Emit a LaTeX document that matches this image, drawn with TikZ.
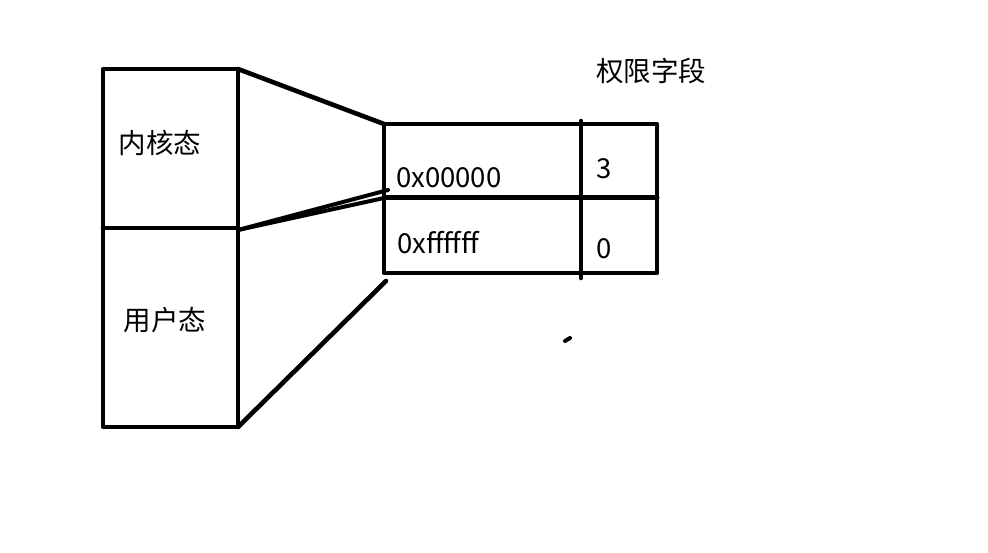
\documentclass[tikz,border=0pt]{standalone}
\usepackage{fontspec}
\setmainfont{Noto Sans CJK SC}
\begin{document}
\begin{tikzpicture}[x=1pt,y=-1pt,
  ln/.style={line width=4.6pt,line cap=round,line join=round},
  txt/.style={inner sep=0pt,font=\fontsize{27.5}{32}\selectfont}]
\useasboundingbox[fill=white] (0,0) rectangle (988,553);
% left box
\draw[ln] (103,69) rectangle (238,427);
\draw[ln] (103,228) -- (238,228);
\coordinate (ltop) at (238,69);
\coordinate (lmid) at (238,230);
\coordinate (lbot) at (238,427);
% right table
\draw[ln] (384,124) rectangle (657,273);
\draw[ln,line width=5pt] (384,198) -- (657,198);
\draw[ln] (581,121) -- (581,278);
\coordinate (rtop) at (384,124);
\coordinate (rmidA) at (388,190);
\coordinate (rmidB) at (384,198);
\coordinate (rbot) at (386,281);
% connectors
\draw[ln] (ltop) -- (rtop);
\draw[ln,line width=4pt] (lmid) -- (rmidA);
\draw[ln,line width=4pt] (lmid) -- (rmidB);
\draw[ln] (lbot) -- (rbot);
% stray mark
\draw[line width=4pt,line cap=round] (565,341) -- (570,338);
% texts
\node[txt] (k) at (160,143) {内核态};
\node[txt] (u) at (165,320) {用户态};
\node[txt] (q) at (651,71) {权限字段};
\node[txt,anchor=west] (a0) at (396,178) {0x00000};
\node[txt,anchor=west] (af) at (397,243) {0xffffff};
\node[txt] (n3) at (604,169) {3};
\node[txt] (n0) at (604,249) {0};
\end{tikzpicture}
\end{document}
